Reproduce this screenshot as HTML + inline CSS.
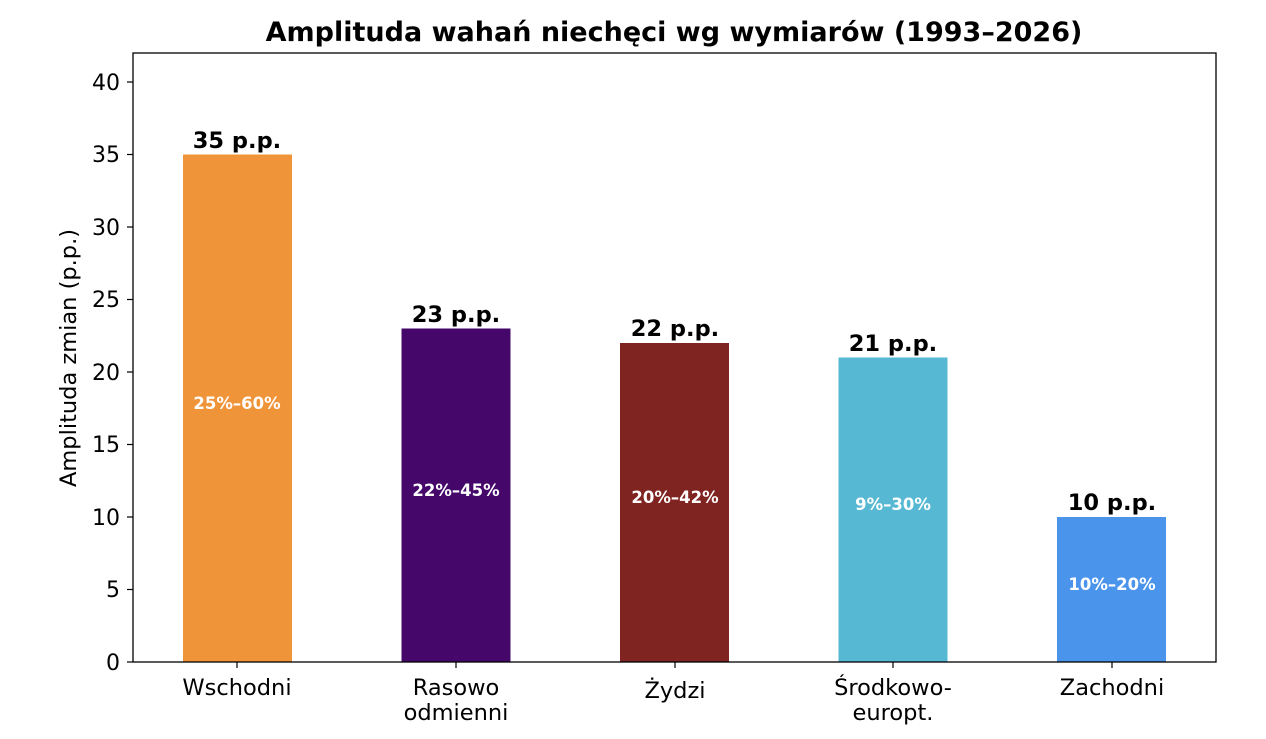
<!DOCTYPE html>
<html><head><meta charset="utf-8"><style>body{margin:0;background:#fff}svg{display:block}text{font-family:"DejaVu Sans","Liberation Sans",sans-serif}</style></head><body>
<svg width="1266" height="739" viewBox="0 0 1266 739" xmlns="http://www.w3.org/2000/svg">
<rect width="1266" height="739" fill="#fff"/>
<text x="674" y="41" text-anchor="middle" font-size="27" font-weight="bold">Amplituda wahań niechęci wg wymiarów (1993–2026)</text>
<g>
<rect x="183" y="154.5" width="109" height="507.5" fill="#F0943A"/>
<rect x="401.5" y="328.5" width="109" height="333.5" fill="#45086A"/>
<rect x="620" y="343" width="109" height="319" fill="#7F2421"/>
<rect x="838.5" y="357.5" width="109" height="304.5" fill="#56B8D2"/>
<rect x="1057" y="517" width="109" height="145" fill="#4A94EC"/>
</g>
<g font-size="22.5" font-weight="bold" text-anchor="middle">
<text x="237" y="148">35 p.p.</text>
<text x="456" y="322">23 p.p.</text>
<text x="675" y="336">22 p.p.</text>
<text x="893" y="351">21 p.p.</text>
<text x="1112" y="510">10 p.p.</text>
</g>
<g font-size="16.5" font-weight="bold" fill="#fff" text-anchor="middle">
<text x="237" y="409">25%–60%</text>
<text x="456" y="496">22%–45%</text>
<text x="675" y="503">20%–42%</text>
<text x="893" y="510">9%–30%</text>
<text x="1112" y="590">10%–20%</text>
</g>
<rect x="133" y="53" width="1083" height="609" fill="none" stroke="#000" stroke-width="1.3"/>
<g stroke="#000" stroke-width="1.2">
<line x1="127" y1="662" x2="133" y2="662"/><line x1="127" y1="589.5" x2="133" y2="589.5"/><line x1="127" y1="517" x2="133" y2="517"/><line x1="127" y1="444.5" x2="133" y2="444.5"/><line x1="127" y1="372" x2="133" y2="372"/><line x1="127" y1="299.5" x2="133" y2="299.5"/><line x1="127" y1="227" x2="133" y2="227"/><line x1="127" y1="154.5" x2="133" y2="154.5"/><line x1="127" y1="82" x2="133" y2="82"/>
<line x1="237" y1="662" x2="237" y2="668"/><line x1="456" y1="662" x2="456" y2="668"/><line x1="675" y1="662" x2="675" y2="668"/><line x1="893" y1="662" x2="893" y2="668"/><line x1="1112" y1="662" x2="1112" y2="668"/>
</g>
<g font-size="22" text-anchor="end">
<text x="120" y="670">0</text><text x="120" y="597">5</text><text x="120" y="525">10</text><text x="120" y="452">15</text><text x="120" y="380">20</text><text x="120" y="307">25</text><text x="120" y="235">30</text><text x="120" y="162">35</text><text x="120" y="90">40</text>
</g>
<g font-size="22.5" text-anchor="middle">
<text x="237" y="695">Wschodni</text>
<text x="456" y="695">Rasowo</text><text x="456" y="720">odmienni</text>
<text x="675" y="698">Żydzi</text>
<text x="893" y="695">Środkowo-</text><text x="893" y="720">europt.</text>
<text x="1112" y="695">Zachodni</text>
</g>
<text transform="translate(76,358) rotate(-90)" font-size="22.5" text-anchor="middle">Amplituda zmian (p.p.)</text>
</svg>
</body></html>
